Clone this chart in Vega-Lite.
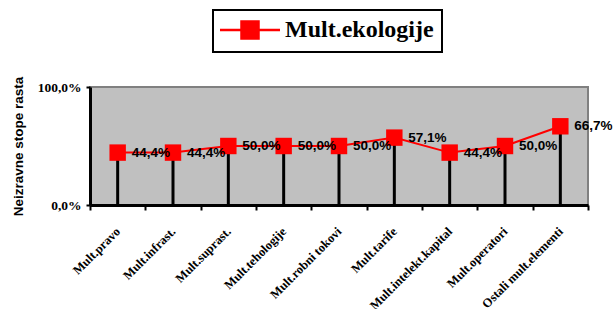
{
  "$schema": "https://vega.github.io/schema/vega-lite/v6.json",
  "width": 498,
  "height": 118,
  "autosize": {"type": "none"},
  "padding": {"left": 90, "top": 87, "right": 25, "bottom": 104},
  "background": "white",
  "config": {
    "locale": {"number": {"decimal": ",", "thousands": ".", "grouping": [3], "currency": ["", " €"]}},
    "view": {"fill": "#C0C0C0", "stroke": "#808080", "strokeWidth": 2},
    "axis": {"grid": false}
  },
  "data": {
    "values": [
      {"kategorija": "Mult.pravo", "vrijednost": 0.444, "serija": "Mult.ekologije"},
      {"kategorija": "Mult.infrast.", "vrijednost": 0.444, "serija": "Mult.ekologije"},
      {"kategorija": "Mult.suprast.", "vrijednost": 0.5, "serija": "Mult.ekologije"},
      {"kategorija": "Mult.tehologije", "vrijednost": 0.5, "serija": "Mult.ekologije"},
      {"kategorija": "Mult.robni tokovi", "vrijednost": 0.5, "serija": "Mult.ekologije"},
      {"kategorija": "Mult.tarife", "vrijednost": 0.571, "serija": "Mult.ekologije"},
      {"kategorija": "Mult.intelekt.kapital", "vrijednost": 0.444, "serija": "Mult.ekologije"},
      {"kategorija": "Mult.operatori", "vrijednost": 0.5, "serija": "Mult.ekologije"},
      {"kategorija": "Ostali mult.elementi", "vrijednost": 0.667, "serija": "Mult.ekologije"}
    ]
  },
  "encoding": {
    "x": {
      "field": "kategorija", "type": "nominal", "sort": null,
      "scale": {"paddingInner": 0, "paddingOuter": 0},
      "axis": {
        "title": null, "labelAngle": -45, "labelAlign": "right", "labelBaseline": "middle",
        "labelFont": "Liberation Serif", "labelFontWeight": "bold", "labelFontSize": 12.5,
        "labelColor": "black", "labelPadding": 19,
        "domainColor": "black", "domainWidth": 3,
        "tickBand": "extent", "tickColor": "black", "tickWidth": 2, "tickSize": 5
      }
    },
    "y": {
      "field": "vrijednost", "type": "quantitative",
      "scale": {"domain": [0, 1], "nice": false},
      "axis": {
        "title": "Neizravne stope rasta", "titleFont": "Liberation Sans", "titleFontWeight": "bold",
        "titleFontSize": 13.5, "titleColor": "black", "titlePadding": 12,
        "values": [0, 1], "format": ".1%",
        "labelFont": "Liberation Serif", "labelFontWeight": "bold", "labelFontSize": 13.5, "labelColor": "black",
        "labelPadding": 5,
        "domainColor": "black", "domainWidth": 3,
        "tickColor": "black", "tickWidth": 2, "tickSize": 4
      }
    }
  },
  "layer": [
    {
      "mark": {"type": "rule", "color": "black", "strokeWidth": 3},
      "encoding": {"y2": {"datum": 0}}
    },
    {
      "mark": {"type": "line", "color": "#FF0000", "strokeWidth": 2}
    },
    {
      "mark": {"type": "point", "shape": "square", "filled": true, "size": 270, "opacity": 1},
      "encoding": {
        "color": {
          "field": "serija", "type": "nominal",
          "scale": {"range": ["#FF0000"]},
          "legend": {
            "title": null, "orient": "none", "legendX": 123, "legendY": -77,
            "symbolType": "M-3,0H-0.85M0.85,0H3M-0.85,-0.85H0.85V0.85H-0.85Z",
            "symbolSize": 400, "symbolStrokeColor": "#FF0000", "symbolFillColor": "#FF0000",
            "symbolStrokeWidth": 2.5, "symbolOpacity": 1, "symbolOffset": 17,
            "labelFont": "Liberation Serif", "labelFontWeight": "bold", "labelFontSize": 24,
            "labelColor": "black", "labelOffset": 23,
            "strokeColor": "black", "fillColor": "white", "padding": 8,
            "cornerRadius": 0,
            "encode": {"legend": {"update": {"strokeWidth": {"value": 2}}}}
          }
        }
      }
    },
    {
      "mark": {"type": "text", "align": "left", "baseline": "middle", "dx": 14, "font": "Liberation Sans", "fontWeight": "bold", "fontSize": 13.5, "color": "black"},
      "encoding": {"text": {"field": "vrijednost", "type": "quantitative", "format": ".1%"}}
    }
  ]
}
